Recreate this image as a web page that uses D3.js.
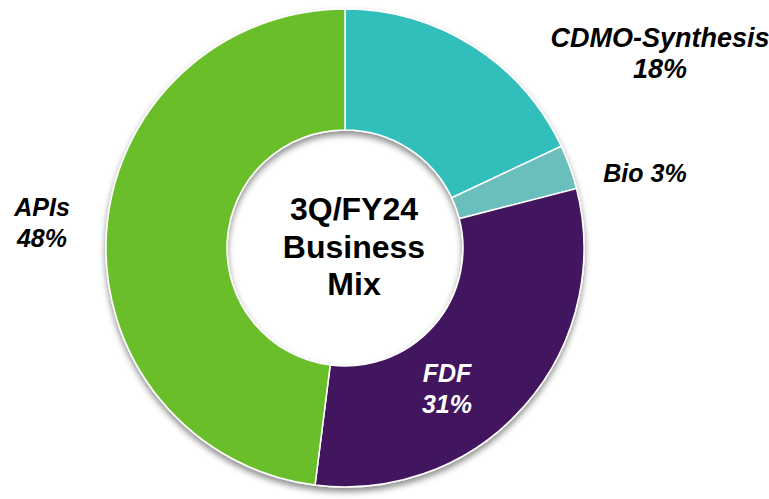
<!DOCTYPE html>
<html>
<head>
<meta charset="utf-8">
<script src="https://cdn.jsdelivr.net/npm/d3@7"></script>
<style>
  html, body { margin: 0; padding: 0; background: #fff; }
  svg { display: block; }
  text { font-family: "Liberation Sans", Arial, sans-serif; font-weight: bold; }
</style>
</head>
<body>
<svg id="chart" width="769" height="499"></svg>
<script>
const categories = ["CDMO-Synthesis", "Bio", "FDF", "APIs"];
const values = [18, 3, 31, 48];
const colors = ["#33BFBC", "#6ABFBC", "#43175E", "#6BBE2A"];
const centerTitle = ["3Q/FY24", "Business", "Mix"];

const width = 769, height = 499;
const cx = 345, cy = 248, outerR = 239, innerR = 118;

const svg = d3.select("#chart");
const defs = svg.append("defs");
const f = defs.append("filter").attr("id", "shadow")
  .attr("x", "-20%").attr("y", "-20%").attr("width", "140%").attr("height", "140%");
f.append("feDropShadow").attr("dx", 0).attr("dy", 4).attr("stdDeviation", 3)
  .attr("flood-color", "#000").attr("flood-opacity", 0.45);

const pie = d3.pie().value(d => d).sort(null).startAngle(0).endAngle(2 * Math.PI);
const arc = d3.arc().innerRadius(innerR).outerRadius(outerR);
const arcs = pie(values);

const g = svg.append("g").attr("transform", `translate(${cx},${cy})`);
g.append("g").attr("filter", "url(#shadow)")
  .selectAll("path").data(arcs).join("path")
  .attr("d", arc)
  .attr("fill", (d, i) => colors[i])
  .attr("stroke", "#fff").attr("stroke-width", 1.5);

// center label
g.append("g").selectAll("text").data(centerTitle).join("text")
  .attr("x", 9).attr("y", (d, i) => -28 + i * 37.5)
  .attr("text-anchor", "middle")
  .attr("font-size", 32).attr("fill", "#000")
  .text(d => d);

// slice labels
const labels = [
  { lines: [categories[0], values[0] + "%"], x: 660, y: 47, color: "#000", size: 27 },
  { lines: [categories[1] + " " + values[1] + "%"], x: 645, y: 182, color: "#000", size: 25 },
  { lines: [categories[2], values[2] + "%"], x: 447, y: 382, color: "#fff", size: 25 },
  { lines: [categories[3], values[3] + "%"], x: 42, y: 216, color: "#000", size: 25 }
];
labels.forEach(l => {
  svg.append("g").selectAll("text").data(l.lines).join("text")
    .attr("x", l.x).attr("y", (d, i) => l.y + i * 31)
    .attr("text-anchor", "middle")
    .attr("font-style", "italic")
    .attr("font-size", l.size)
    .attr("fill", l.color)
    .text(d => d);
});
</script>
</body>
</html>
